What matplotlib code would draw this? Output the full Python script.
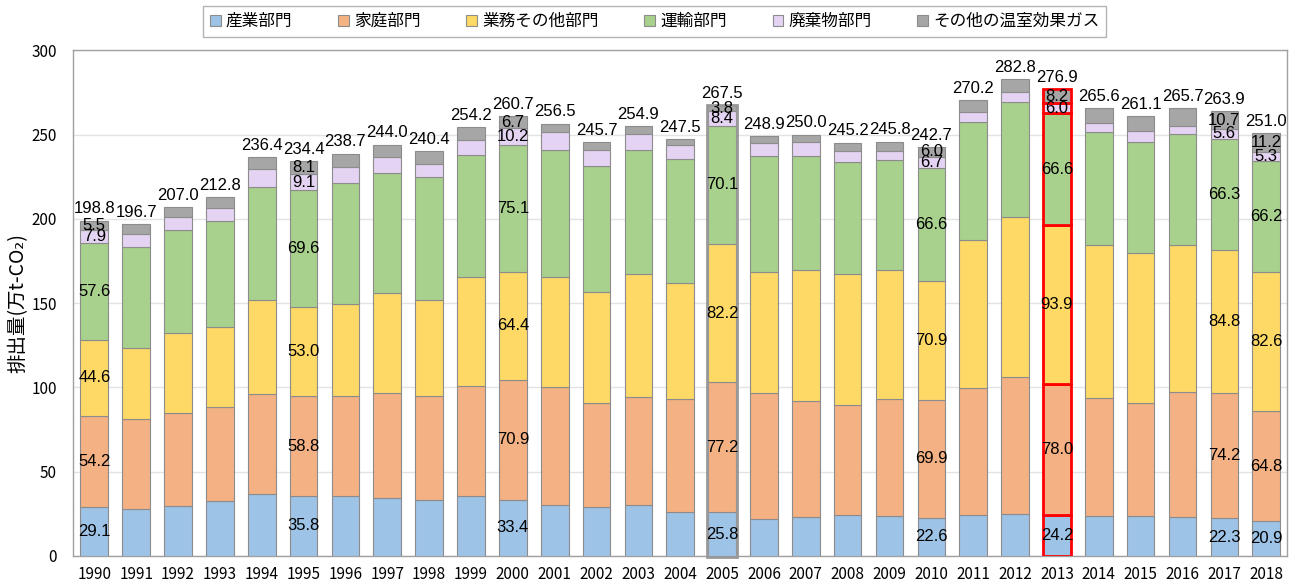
import matplotlib
matplotlib.use("Agg")
from matplotlib import pyplot as plt
import numpy as np

plt.rcParams['font.family'] = ['Noto Sans CJK JP', 'DejaVu Sans']

years = list(range(1990, 2019))
industry = [29.1, 27.7, 29.6, 32.4, 36.6, 35.8, 35.6, 34.4, 33.0, 35.6, 33.4, 30.0, 29.0, 30.0, 25.9,
            25.8, 21.7, 22.9, 24.1, 23.5, 22.6, 24.1, 25.1, 24.2, 23.5, 23.5, 22.9, 22.3, 20.9]
household = [54.2, 53.7, 55.2, 55.9, 59.4, 58.8, 59.4, 62.2, 61.7, 65.2, 70.9, 70.2, 61.5, 64.1, 67.0,
             77.2, 74.7, 69.0, 65.2, 69.4, 69.9, 75.5, 80.8, 78.0, 70.0, 67.0, 74.3, 74.2, 64.8]
business = [44.6, 41.7, 47.4, 47.5, 56.0, 53.0, 54.4, 59.1, 57.3, 64.6, 64.4, 65.2, 66.3, 72.9, 68.8,
            82.2, 71.8, 77.7, 77.7, 76.5, 70.9, 87.7, 95.1, 93.9, 90.7, 89.0, 87.0, 84.8, 82.6]
transport = [57.6, 60.1, 61.1, 62.8, 66.8, 69.6, 72.1, 71.5, 72.7, 72.7, 75.1, 75.3, 74.4, 74.1, 73.8,
             70.1, 68.9, 67.9, 66.4, 65.2, 66.6, 70.2, 68.0, 66.6, 67.0, 65.9, 66.0, 66.3, 66.2]
waste = [7.9, 7.5, 7.7, 8.1, 10.8, 9.1, 9.3, 9.3, 8.1, 8.9, 10.2, 10.5, 9.9, 9.1, 8.3,
         8.4, 7.9, 7.9, 6.9, 5.9, 6.7, 6.1, 6.1, 6.0, 5.5, 6.4, 4.9, 5.6, 5.3]
other_gas = [5.5, 6.0, 6.0, 6.1, 6.8, 8.1, 7.9, 7.5, 7.6, 7.2, 6.7, 5.3, 4.6, 4.7, 3.7,
             3.8, 3.9, 4.6, 4.9, 5.3, 6.0, 6.6, 7.7, 8.2, 8.9, 9.3, 10.6, 10.7, 11.2]
totals = [198.8, 196.7, 207.0, 212.8, 236.4, 234.4, 238.7, 244.0, 240.4, 254.2, 260.7, 256.5, 245.7,
          254.9, 247.5, 267.5, 248.9, 250.0, 245.2, 245.8, 242.7, 270.2, 282.8, 276.9, 265.6, 261.1,
          265.7, 263.9, 251.0]

sectors = ['産業部門', '家庭部門', '業務その他部門', '運輸部門', '廃棄物部門', 'その他の温室効果ガス']
series = [industry, household, business, transport, waste, other_gas]
colors = ['#9DC3E6', '#F4B183', '#FFD966', '#A9D18E', '#E4D3F3', '#A6A6A6']

labeled_years = [1990, 1995, 2000, 2005, 2010, 2013, 2017, 2018]
base_year = 2005
target_year = 2013

fig = plt.figure(figsize=(12.94, 5.84), dpi=100)
ax = fig.add_axes([0.0567, 0.048, 0.938, 0.866])

x = np.arange(len(years))
width = 0.66
bottom = np.zeros(len(years))
num_font = dict(family=['Liberation Sans', 'DejaVu Sans'])

for name, vals, col in zip(sectors, series, colors):
    vals = np.array(vals)
    edges = ['red' if y == target_year else '#8C8C8C' for y in years]
    lws = [2.0 if y == target_year else 0.8 for y in years]
    ax.bar(x, vals, width, bottom=bottom, color=col, edgecolor=edges,
           linewidth=lws, label=name, zorder=3)
    for i, y in enumerate(years):
        if y in labeled_years:
            ax.text(x[i], bottom[i] + vals[i] / 2, f"{vals[i]:.1f}", ha='center',
                    va='center', fontsize=12, color='black', zorder=5, **num_font)
    bottom += vals

# outline around the base year bar
i05 = years.index(base_year)
ax.bar(x[i05], bottom[i05] + 0.8, width + 0.04, bottom=-0.8, fill=False,
       edgecolor='#999999', linewidth=2, zorder=4, clip_on=False)

for i, t in enumerate(totals):
    ax.annotate(f"{t:.1f}", (x[i], bottom[i]), xytext=(0, 3), textcoords='offset points',
                ha='center', va='bottom', fontsize=12, **num_font)

ax.set_xlim(-0.5, len(years) - 0.5)
ax.set_ylim(0, 300)
ax.set_yticks(range(0, 301, 50))
ax.set_xticks(x)
ax.set_xticklabels([str(y) for y in years], fontsize=11)
ax.tick_params(axis='y', labelsize=11, length=0, pad=12)
ax.tick_params(axis='x', length=0, pad=7)
ax.yaxis.grid(True, color='#E3E3E3', linewidth=1, zorder=0)
ax.set_axisbelow(True)
for s in ax.spines.values():
    s.set_color('#A0A0A0')
    s.set_linewidth(1)
ax.set_ylabel('排出量(万t-CO₂)', fontsize=14, labelpad=2)

leg = fig.legend(loc='center', bbox_to_anchor=(0.506, 0.963), ncol=6, fontsize=12,
                 frameon=True, fancybox=False, edgecolor='#A0A0A0', handlelength=0.65,
                 handleheight=0.65, handletextpad=0.3, columnspacing=2.75,
                 borderpad=0.4)
leg.get_frame().set_linewidth(1)

fig.savefig('out.png', dpi=100)
